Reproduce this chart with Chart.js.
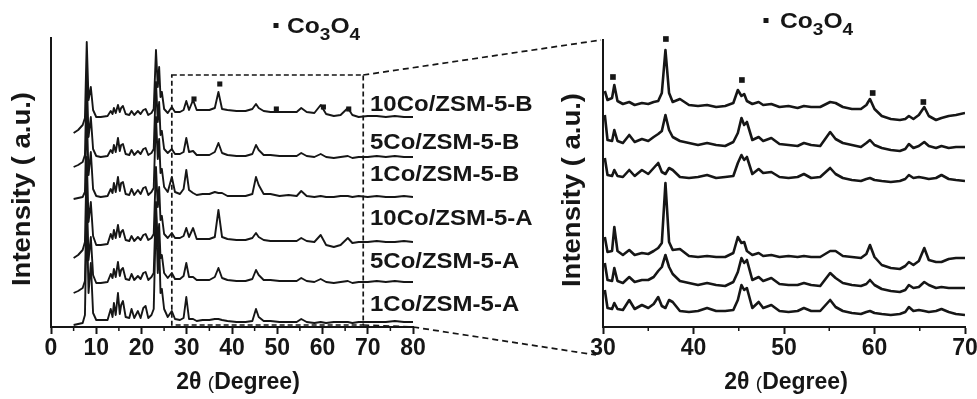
<!DOCTYPE html>
<html lang="en">
<head>
    <meta charset="UTF-8">
    <title>XRD Co/ZSM-5</title>
    <script src="https://cdn.jsdelivr.net/npm/chart.js"></script>
    <style>
        body { margin: 0; background: #fff; }
        #wrap { position: relative; width: 977px; height: 399px; }
        canvas { position: absolute; left: 0; top: 0; }
    </style>
</head>
<body>
<div id="wrap">
    <canvas id="full" width="977" height="399"></canvas>
    <canvas id="zoom" width="977" height="399"></canvas>
</div>
<script>
// sample names, top to bottom
const SERIES = ['10Co/ZSM-5-B', '5Co/ZSM-5-B', '1Co/ZSM-5-B', '10Co/ZSM-5-A', '5Co/ZSM-5-A', '1Co/ZSM-5-A'];

// ---- full range scan, 2theta 5-80 ----
const L_X = [
    5, 6, 7, 7.5,
    7.9, 8.3, 8.8, 9.3,
    10, 11, 12.5, 13.2,
    13.6, 13.9, 14.3, 14.8,
    15.2, 15.5, 15.9, 16.5,
    17.3, 17.8, 18.4, 19.2,
    19.8, 20.4, 20.9, 21.5,
    22.2, 22.7, 23.2, 23.6,
    23.9, 24.2, 24.5, 25.0,
    25.8, 26.7, 27.4, 28.5,
    29.3, 29.9, 30.5, 31.4,
    32.2, 33.5, 35.0, 36.2,
    37.0, 37.8, 39.0, 41.0,
    43.0, 44.5, 45.3, 45.9,
    47.0, 48.5, 50.5, 52.5,
    54.3, 55.3, 56.5, 58.2,
    59.6, 60.8, 62.5, 64.0,
    65.6, 66.6, 68.0, 70.0,
    72.0, 74.0, 76.0, 78.0,
    80.0
];
const L_10CoB = [
    -16, -13, -8, -1,
    75, 17, 30, 7,
    0, 0, 1, 6,
    3, 9, 4, 12,
    5, 9, 11, 3,
    2, 6, 2, 6,
    3, 7, 8, 2,
    4, 8, 67, 30,
    50, 20, 25, 8,
    4, 10, 5, 5,
    7, 16, 7, 17,
    7, 7, 7, 9,
    25, 8, 7, 6,
    6, 8, 13, 9,
    6, 5, 5, 5,
    5, 9, 5, 4,
    12, 3, 1, 2,
    9, 2, 0, 1,
    1, 0, 1, 0,
    0
];
const L_5CoB = [
    -10, -8, -5, 2,
    80, 20, 40, 8,
    1, 0, 1, 7,
    4, 12, 5, 19,
    6, 12, 13, 3,
    2, 7, 2, 6,
    3, 8, 9, 2,
    4, 8, 75, 35,
    55, 22, 26, 8,
    4, 8, 3, 3,
    5, 19, 5, 6,
    2, 2, 2, 5,
    14, 4, 2, 1,
    1, 3, 12, 7,
    2, 2, 1, 1,
    1, 4, 1, 0,
    3, 0, -1, 0,
    1, -1, 0, 0,
    1, 0, 1, 0,
    0
];
const L_1CoB = [
    -2, -1, 0, 5,
    85, 22, 45, 8,
    1, 0, 1, 8,
    4, 14, 5, 20,
    6, 14, 15, 3,
    2, 8, 2, 7,
    3, 9, 10, 2,
    5, 9, 80, 38,
    58, 24, 28, 10,
    5, 20, 5, 3,
    8, 27, 7, 4,
    2, 3, 3, 5,
    4, 4, 1, 1,
    1, 3, 20, 12,
    3, 3, 1, 2,
    1, 6, 1, 0,
    1, 0, 0, 1,
    1, 0, 1, 0,
    1, 0, 0, 1,
    0
];
const L_10CoA = [
    -16, -13, -8, 0,
    85, 20, 40, 6,
    -3, -3, -2, 8,
    3, 12, 4, 17,
    5, 10, 12, 2,
    1, 6, 1, 5,
    2, 7, 8, 2,
    4, 8, 75, 35,
    55, 22, 26, 8,
    4, 9, 4, 4,
    6, 14, 5, 14,
    3, 3, 3, 5,
    32, 5, 3, 2,
    2, 4, 9, 5,
    2, 1, 1, 1,
    1, 4, 1, 0,
    7, -3, -5, -3,
    4, -1, 0, 0,
    1, 0, 0, 1,
    0
];
const L_5CoA = [
    -11, -9, -6, 1,
    90, 22, 45, 7,
    -1, -1, 0, 8,
    4, 13, 5, 20,
    6, 12, 14, 3,
    2, 8, 2, 6,
    3, 9, 10, 2,
    5, 9, 80, 36,
    58, 24, 27, 9,
    4, 9, 3, 3,
    6, 19, 5, 5,
    2, 2, 2, 5,
    14, 4, 2, 1,
    1, 3, 12, 7,
    2, 2, 1, 1,
    1, 4, 1, 0,
    3, 0, -1, 0,
    1, -1, 0, 0,
    1, 0, 1, 0,
    0
];
const L_1CoA = [
    -2, -1, 0, 8,
    110, 30, 60, 10,
    3, 3, 3, 14,
    6, 20, 8, 30,
    9, 18, 22, 6,
    5, 14, 5, 12,
    5, 15, 17, 5,
    8, 14, 110, 50,
    80, 30, 34, 14,
    6, 12, 4, 3,
    5, 26, 4, 4,
    2, 3, 3, 4,
    4, 3, 2, 1,
    1, 2, 14, 6,
    2, 2, 1, 1,
    1, 4, 1, 0,
    1, 0, 1, 1,
    1, 0, 1, 1,
    1, 1, 2, 1,
    1
];
const L_SCANS = [L_10CoB, L_5CoB, L_1CoB, L_10CoA, L_5CoA, L_1CoA];
const L_SHIFT = [210, 170, 130, 85, 45, 4];      // vertical stacking
const L_CO3O4_X = [31.6, 37.3, 49.8, 60.2, 65.8];  // Co3O4 reflections
const L_CO3O4_Y = [228, 243, 218, 220, 218];

// ---- enlarged scan, 2theta 30-70 ----
const R_X = [
    30.2, 30.5, 31.0, 31.25,
    31.6, 32.2, 32.9, 33.5,
    34.3, 35.0, 35.6, 36.1,
    36.5, 36.9, 37.3, 37.7,
    38.5, 39.5, 40.5, 41.5,
    42.5, 43.5, 44.4, 44.9,
    45.3, 45.6, 45.9, 46.5,
    47.2, 47.7, 48.6, 49.5,
    50.5, 51.5, 52.2, 53.0,
    54.0, 55.1, 55.7, 56.5,
    57.5, 58.5, 59.1, 59.5,
    60.0, 60.8, 61.8, 62.8,
    63.4, 63.8, 64.3, 64.9,
    65.5, 66.0, 66.8, 67.4,
    68.2, 69.0, 70.0
];
const R_10CoB = [
    16, 7, 9, 22,
    6, 3, 5, 2,
    4, 3, 5, 6,
    14, 57, 14, 5,
    8, 2, 1, 2,
    0, 1, 4, 17,
    11, 13, 6, 3,
    5, 2, 3, 0,
    1, -1, 1, 0,
    0, 5, 4, 0,
    -2, -2, 2, 8,
    -2, -9, -12, -13,
    -12, -9, -12, -8,
    0, -9, -13, -11,
    -9, -8, -6
];
const R_5CoB = [
    30, 5, 4, 15,
    4, 2, 10, 3,
    6, 4, 8, 11,
    14, 30, 15, 8,
    4, 2, 0, 2,
    0, -1, 3, 12,
    27, 20, 23, 5,
    8, 4, 7, 1,
    0, -1, 2, 0,
    -1, 13, 6, 2,
    0, -2, 2, 5,
    0, -3, -5, -6,
    -4, 1, -3, -1,
    3, -1, -3, -1,
    -3, -2, -2
];
const R_1CoB = [
    20, 3, 2, 8,
    2, 1, 8, 2,
    8, 4, 10, 15,
    6, 4, 10, 8,
    1, 0, 1, 3,
    0, 1, 2, 15,
    23, 18, 21, 4,
    9, 5, 6, 1,
    0, 1, 4, 0,
    1, 10, 4, 0,
    -2, -3, -1, 0,
    -2, -3, -4, -3,
    -1, 3, 0, 1,
    0, -1, 0, 3,
    -1, -2, -3
];
const R_10CoA = [
    20, 5, 6, 30,
    6, 2, 7, 2,
    4, 3, 6, 9,
    14, 74, 15, 7,
    8, 1, 0, 1,
    0, 0, 4, 20,
    14, 15, 6, 2,
    4, 1, 2, 0,
    1, 0, 1, 0,
    0, 6, 6, 1,
    0, -1, 3, 12,
    0, -8, -11, -12,
    -9, -5, -8, -4,
    9, -3, -5, -5,
    -2, -1, -1
];
const R_5CoA = [
    22, 5, 4, 17,
    4, 2, 8, 3,
    5, 5, 8, 14,
    18, 30, 18, 11,
    4, 2, 0, 2,
    0, -1, 3, 13,
    27, 22, 25, 5,
    8, 4, 7, 1,
    0, 0, 2, 0,
    -1, 12, 7, 2,
    0, -1, 1, 5,
    0, -4, -6, -7,
    -5, 0, -3, -2,
    3, 0, -3, -2,
    -3, -3, -3
];
const R_1CoA = [
    22, 4, 3, 9,
    3, 2, 12, 3,
    7, 4, 8, 15,
    6, 4, 12, 10,
    1, 0, 1, 4,
    1, 1, 2, 12,
    27, 22, 24, 4,
    10, 4, 7, 1,
    0, 1, 4, 1,
    1, 12, 5, 1,
    -1, -2, 0, 1,
    -1, -2, -3, -2,
    0, 5, 1, 2,
    1, 0, 1, 3,
    0, -2, -3
];
const R_SCANS = [R_10CoB, R_5CoB, R_1CoB, R_10CoA, R_5CoA, R_1CoA];
const R_SHIFT = [220, 182, 149, 70, 42, 15];
const R_CO3O4_X = [31.1, 36.95, 45.35, 59.8, 65.4];
const R_CO3O4_Y = [250, 288, 247, 234, 225];

// zoomed window marked on the full scan
const BOX_X = [26.7, 69.0];
const BOX_TOP = 252;

const FONT = "'Liberation Sans', Arial, Helvetica, sans-serif";
const INK = '#161616';
const LABEL_Y = [105, 143, 175, 219, 262, 305];

function stretchText(ctx, text, x, y, size, sx, align) {
    ctx.save();
    ctx.font = 'bold ' + size + 'px ' + FONT;
    ctx.fillStyle = INK;
    ctx.textBaseline = 'middle';
    ctx.textAlign = 'left';
    const w = ctx.measureText(text).width * sx;
    ctx.translate(align === 'center' ? x - w / 2 : x, y);
    ctx.scale(sx, 1);
    ctx.fillText(text, 0, 0);
    ctx.restore();
}

function verticalText(ctx, text, cx, cy, size, sx) {
    ctx.save();
    ctx.translate(cx, cy);
    ctx.rotate(-Math.PI / 2);
    ctx.scale(sx, 1);
    ctx.font = 'bold ' + size + 'px ' + FONT;
    ctx.fillStyle = INK;
    ctx.textAlign = 'center';
    ctx.textBaseline = 'middle';
    ctx.fillText(text, 0, 0);
    ctx.restore();
}

function xTitle(ctx, cx, cy) {
    const parts = [['2θ ', 'bold 23px '], ['(', '19px '], ['Degree)', 'bold 23px ']];
    ctx.save();
    ctx.fillStyle = INK;
    ctx.textBaseline = 'middle';
    let total = 0;
    for (const p of parts) { ctx.font = p[1] + FONT; total += ctx.measureText(p[0]).width; }
    let x = cx - total / 2;
    for (const p of parts) {
        ctx.font = p[1] + FONT;
        ctx.fillText(p[0], x, cy + (p[0] === '(' ? 1 : 0));
        x += ctx.measureText(p[0]).width;
    }
    ctx.restore();
}

// "▪ Co3O4" key with subscripts
function co3o4Key(ctx, sqX, baseY, gap) {
    ctx.save();
    ctx.fillStyle = INK;
    ctx.fillRect(sqX - 2.5, baseY - 10, 5, 5);
    ctx.translate(sqX + gap, baseY);
    ctx.scale(1.12, 1);
    ctx.textBaseline = 'alphabetic';
    let x = 0;
    for (const [t, size, dy] of [['Co', 22, 0], ['3', 17, 7], ['O', 22, 0], ['4', 17, 7]]) {
        ctx.font = 'bold ' + size + 'px ' + FONT;
        ctx.fillText(t, x, dy);
        x += ctx.measureText(t).width;
    }
    ctx.restore();
}

function minorTicks(chart, from, to) {
    const {ctx, chartArea, scales: {x}} = chart;
    ctx.save();
    ctx.strokeStyle = INK;
    ctx.lineWidth = 1.5;
    for (let v = from; v <= to; v += 10) {
        const px = x.getPixelForValue(v);
        ctx.beginPath();
        ctx.moveTo(px, chartArea.bottom);
        ctx.lineTo(px, chartArea.bottom + 4);
        ctx.stroke();
    }
    ctx.restore();
}

function traceSets(xs, scans, shifts, width) {
    return scans.map((vals, k) => ({
        label: SERIES[k],
        data: xs.map((x, i) => ({x: x, y: vals[i] + shifts[k]})),
        borderColor: INK,
        borderWidth: width,
        borderJoinStyle: 'round',
        pointRadius: 0,
        tension: 0,
        fill: false
    }));
}

function markerSet(xs, ys, r) {
    return {
        type: 'scatter',
        label: 'Co3O4',
        data: xs.map((x, i) => ({x: x, y: ys[i]})),
        pointStyle: 'rect',
        pointRadius: r,
        backgroundColor: INK,
        borderWidth: 0,
        clip: false
    };
}

function axes(xmin, xmax, ymax) {
    return {
        x: {
            type: 'linear', min: xmin, max: xmax,
            border: {display: true, color: INK, width: 2},
            grid: {display: true, drawOnChartArea: false, drawTicks: true, tickLength: 7, tickColor: INK, tickWidth: 2},
            ticks: {stepSize: 10, color: INK, padding: 1, maxRotation: 0, autoSkip: false,
                    font: {family: FONT, size: 23, weight: 'bold'}},
            afterFit: s => { s.height = 72; s.paddingLeft = 0; s.paddingRight = 0; }
        },
        y: {
            min: 0, max: ymax,
            border: {display: true, color: INK, width: 2},
            grid: {display: false},
            ticks: {display: false},
            afterFit: s => { s.width = 0; }
        }
    };
}

const common = {
    responsive: false,
    animation: false,
    events: [],
    plugins: {legend: {display: false}, tooltip: {enabled: false}}
};

const fullChart = new Chart(document.getElementById('full'), {
    type: 'line',
    data: {datasets: [...traceSets(L_X, L_SCANS, L_SHIFT, 1.9), markerSet(L_CO3O4_X, L_CO3O4_Y, 3.6)]},
    options: {
        ...common,
        layout: {padding: {left: 51, right: 564, top: 38, bottom: 0}},
        scales: axes(0, 80, 289)
    },
    plugins: [{
        id: 'fullDecor',
        afterDraw(chart) {
            const {ctx, chartArea, scales: {x, y}} = chart;
            minorTicks(chart, 5, 75);

            // dashed frame around the enlarged window
            const x0 = x.getPixelForValue(BOX_X[0]);
            const x1 = x.getPixelForValue(BOX_X[1]);
            const y0 = y.getPixelForValue(BOX_TOP);
            ctx.save();
            ctx.strokeStyle = INK;
            ctx.lineWidth = 1.7;
            ctx.setLineDash([5, 3]);
            ctx.strokeRect(x0, y0, x1 - x0, chartArea.bottom - 2 - y0);
            ctx.restore();

            SERIES.forEach((name, k) => stretchText(ctx, name, 370, LABEL_Y[k], 22, 1.09, 'left'));
            verticalText(ctx, 'Intensity ( a.u.)', 23, 189, 25, 1.1);
            xTitle(ctx, 238, 383);
            co3o4Key(ctx, 276, 33, 11);
        }
    }]
});

new Chart(document.getElementById('zoom'), {
    type: 'line',
    data: {datasets: [...traceSets(R_X, R_SCANS, R_SHIFT, 2.6), markerSet(R_CO3O4_X, R_CO3O4_Y, 4)]},
    options: {
        ...common,
        layout: {padding: {left: 603, right: 12, top: 40, bottom: 0}},
        scales: axes(30, 70, 287)
    },
    plugins: [{
        id: 'zoomDecor',
        afterDraw(chart) {
            const {ctx, chartArea, scales: {x}} = chart;
            minorTicks(chart, 35, 65);

            // lines linking the dashed frame to this panel
            const fx = fullChart.scales.x, fy = fullChart.scales.y;
            const bx = fx.getPixelForValue(BOX_X[1]);
            const by = fy.getPixelForValue(BOX_TOP);
            ctx.save();
            ctx.strokeStyle = INK;
            ctx.lineWidth = 1.7;
            ctx.setLineDash([6, 4]);
            ctx.beginPath();
            ctx.moveTo(bx, by);
            ctx.lineTo(chartArea.left - 2, chartArea.top);
            ctx.moveTo(bx, fullChart.chartArea.bottom - 2);
            ctx.lineTo(fx.getPixelForValue(80), fullChart.chartArea.bottom);
            ctx.lineTo(x.getPixelForValue(30) - 7, chartArea.bottom + 28);
            ctx.stroke();
            ctx.restore();

            verticalText(ctx, 'Intensity ( a.u.)', 573, 190, 25, 1.1);
            xTitle(ctx, 786, 383);
            co3o4Key(ctx, 766, 28, 14);
        }
    }]
});
</script>
</body>
</html>
